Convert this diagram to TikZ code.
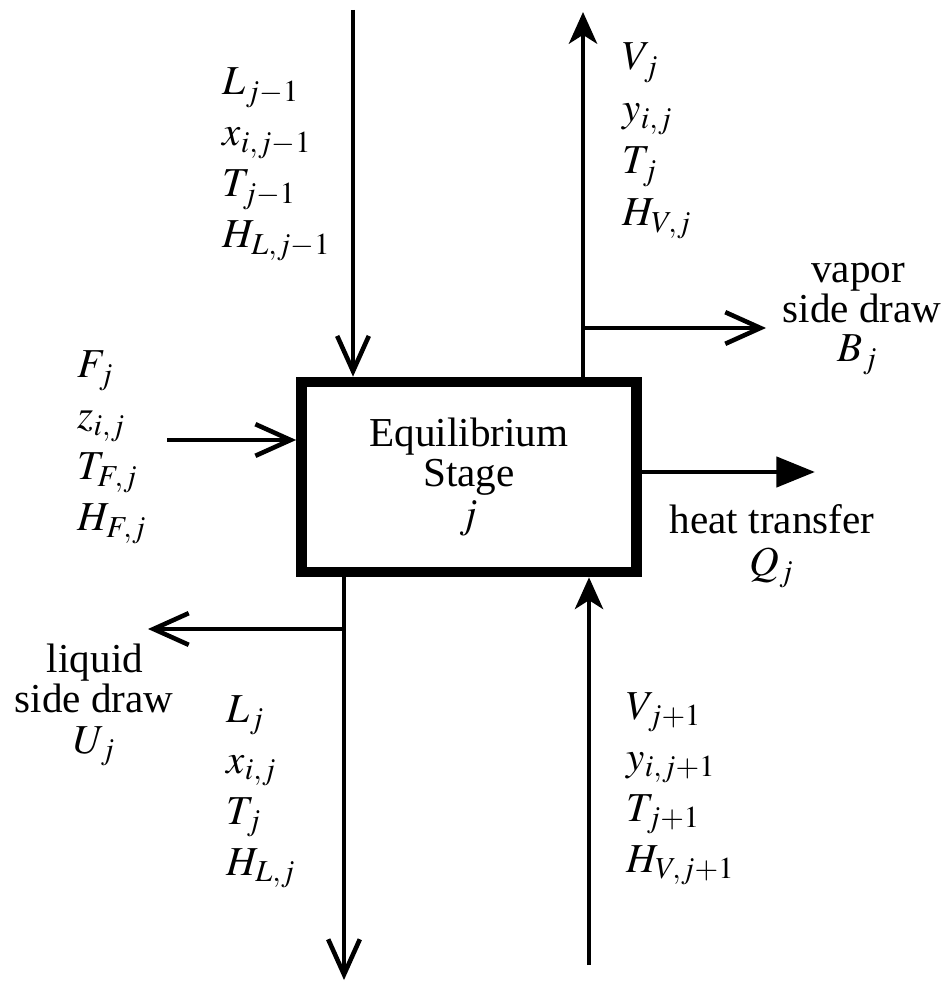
\documentclass[tikz,border=0pt]{standalone}
\usepackage{mathptmx}
\usepackage{fontspec}
\setmainfont{Liberation Serif}
\usepackage{tikz}
\usetikzlibrary{positioning, arrows.meta}

\tikzset{
  stagebox/.style={draw, line width=3pt, minimum width=3.35cm, minimum height=1.9cm,
    align=center, inner sep=0pt},
  flow/.style={line width=1.4pt},
  barb/.style={flow, -{Straight Barb[length=10pt, width=9pt, line width=1.3pt]}},
  vtip/.style={flow, -{Stealth[length=9pt, width=8pt, inset=2.5pt]}},
  heat/.style={flow, -{Triangle[length=11pt, width=8.5pt]}},
  lbl/.style={inner sep=0pt, anchor=base west},
  txt/.style={inner sep=0pt, anchor=base}
}

\begin{document}
\begin{tikzpicture}[x=0.01cm, y=-0.01cm, font=\fontsize{11.7}{11.4}\selectfont]
\useasboundingbox (0,0) rectangle (946,983);

% the stage
\node[stagebox] (stage) at (469,477) {Equilibrium\\Stage\\$j$};

% stream ends
\coordinate (Lin) at (353,10);
\coordinate (Vout) at (583,12);
\coordinate (Bsplit) at (583,328);
\coordinate (Bend) at (766,328);
\coordinate (Fin) at (167,440);
\coordinate (Qend) at (815,472);
\coordinate (Lout) at (344,980);
\coordinate (Usplit) at (344,629);
\coordinate (Uend) at (148,629);
\coordinate (Vin) at (589,965);

\draw[barb] (Lin) -- (Lin |- stage.north);
\draw[vtip] (Vout |- stage.north) -- (Vout);
\draw[barb] (Bsplit) -- (Bend);
\draw[barb] (Fin) -- (Fin -| stage.west);
\draw[heat] (Qend -| stage.east) -- (Qend);
\draw[barb] (Lout |- stage.south) -- (Lout);
\draw[barb] (Usplit) -- (Uend);
\draw[vtip] (Vin) -- (Vin |- stage.south);

% stream variables
\foreach \t [count=\k] in {{L_{j-1}}, {x_{i,j-1}}, {T_{j-1}}, {H_{L,j-1}}}
  \node[lbl] (lprev\k) at (222,{44+51*\k}) {$\t$};
\foreach \t [count=\k] in {{V_j}, {y_{i,j}}, {T_j}, {H_{V,j}}}
  \node[lbl] (vout\k) at (622,{18+52*\k}) {$\t$};
\foreach \t [count=\k] in {{F_j}, {z_{i,j}}, {T_{F,j}}, {H_{F,j}}}
  \node[lbl] (feed\k) at (77,{327+51*\k}) {$\t$};
\foreach \t [count=\k] in {{L_j}, {x_{i,j}}, {T_j}, {H_{L,j}}}
  \node[lbl] (lout\k) at (226,{671+51*\k}) {$\t$};
\foreach \t [count=\k] in {{V_{j+1}}, {y_{i,j+1}}, {T_{j+1}}, {H_{V,j+1}}}
  \node[lbl] (vin\k) at (626,{668+51*\k}) {$\t$};

% side draws and heat
\node[txt] (vap1) at (858,283) {vapor};
\node[txt] (vap2) at (862,323) {side draw};
\node[txt] (vap3) at (858,362) {$B_j$};
\node[txt] (liq1) at (95,672) {liquid};
\node[txt] (liq2) at (94,712) {side draw};
\node[txt] (liq3) at (95,753) {$U_j$};
\node[txt] (heat1) at (772,533) {heat transfer};
\node[txt] (heat2) at (772,575) {$Q_j$};
\end{tikzpicture}
\end{document}
